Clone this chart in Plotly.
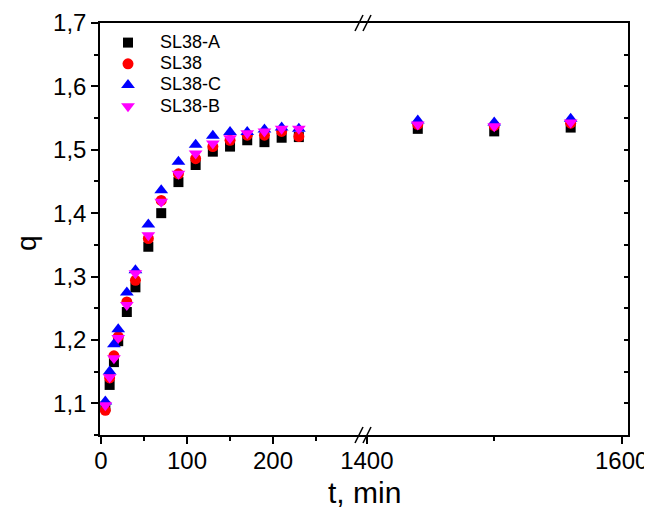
import plotly.graph_objects as go

# ---- data ----
t_left = [5, 10, 15, 20, 30, 40, 55, 70, 90, 110, 130, 150, 170, 190, 210, 230]
t_right = [1440, 1500, 1560]

q_A = [1.095, 1.129, 1.165, 1.198, 1.244, 1.283, 1.347, 1.400, 1.449, 1.476, 1.497, 1.505, 1.515, 1.512, 1.519, 1.520,
       1.533, 1.529, 1.535]
q_SL38 = [1.089, 1.140, 1.175, 1.205, 1.260, 1.294, 1.360, 1.420, 1.462, 1.486, 1.505, 1.515, 1.523, 1.523, 1.529, 1.521,
          1.540, 1.538, 1.542]
q_C = [1.103, 1.150, 1.193, 1.217, 1.275, 1.310, 1.382, 1.436, 1.481, 1.508, 1.522, 1.528, 1.528, 1.532, 1.535, 1.533,
       1.546, 1.543, 1.549]
q_B = [1.097, 1.141, 1.171, 1.203, 1.255, 1.305, 1.365, 1.418, 1.462, 1.494, 1.510, 1.518, 1.526, 1.529, 1.533, 1.533,
       1.540, 1.537, 1.543]

series = [
    ("SL38-A", q_A, "square", "#000000", 10),
    ("SL38", q_SL38, "circle", "#ff0000", 11),
    ("SL38-C", q_C, "triangle-up", "#0000ff", 12),
    ("SL38-B", q_B, "triangle-down", "#ff00ff", 12),
]

FONT = "Liberation Sans, Arial, sans-serif"
nL = len(t_left)

fig = go.Figure()
for name, vals, sym, col, sz in series:
    label = '<span style="font-size:18px">%s</span>' % name
    fig.add_trace(go.Scatter(x=t_left, y=vals[:nL], mode="markers", name=label, legendgroup=name,
                             marker=dict(symbol=sym, color=col, size=sz, line=dict(width=0)),
                             xaxis="x", yaxis="y"))
    fig.add_trace(go.Scatter(x=t_right, y=vals[nL:], mode="markers", name=label, legendgroup=name,
                             showlegend=False,
                             marker=dict(symbol=sym, color=col, size=sz, line=dict(width=0)),
                             xaxis="x2", yaxis="y"))
# empty trace so the right-hand (mirror) y axis is drawn
fig.add_trace(go.Scatter(x=[None], y=[None], mode="markers", showlegend=False, hoverinfo="skip",
                         xaxis="x2", yaxis="y2"))

# page has an 8px body margin, so the figure is 8px smaller and margins shifted
W, H = 644, 513
L, R, T, B = 92, 24, 15, 86
pw, ph = W - L - R, H - T - B


def PX(px):  # page pixel -> paper x
    return (px - 100) / pw


def PY(py):  # page pixel -> paper y
    return (435 - py) / ph


brk = PX(363)

axcommon = dict(showgrid=False, zeroline=False, showline=True, linecolor="black", linewidth=1.5,
                ticks="outside", tickcolor="black", tickwidth=1.5, ticklen=7, automargin=False,
                tickfont=dict(family=FONT, size=24, color="black"))

fig.update_layout(
    width=W, height=H, margin=dict(l=L, r=R, t=T, b=B, autoexpand=False),
    paper_bgcolor="white", plot_bgcolor="white",
    separators=",.",
    font=dict(family=FONT, color="black"),
    xaxis=dict(domain=[0, brk], range=[-1.2, 304.6], anchor="y", tickvals=[0, 100, 200],
               minor=dict(tickvals=[50, 150, 250], ticklen=4, tickcolor="black", tickwidth=1.5, ticks="outside"),
               mirror=True, ticklabelstandoff=-4, **axcommon),
    xaxis2=dict(domain=[brk, 1], range=[1397, 1605], anchor="y", tickvals=[1400, 1600],
                minor=dict(tickvals=[1500], ticklen=4, tickcolor="black", tickwidth=1.5, ticks="outside"),
                mirror=True, ticklabelstandoff=-4, **axcommon),
    yaxis=dict(domain=[0, 1], range=[1.05, 1.7], anchor="x", tickvals=[1.1, 1.2, 1.3, 1.4, 1.5, 1.6, 1.7],
               tickformat=".1f",
               minor=dict(tickvals=[1.05, 1.15, 1.25, 1.35, 1.45, 1.55, 1.65], ticklen=4, tickcolor="black",
                          tickwidth=1.5, ticks="outside"),
               **axcommon),
    yaxis2=dict(domain=[0, 1], range=[1.05, 1.7], anchor="x2", overlaying="y", side="right",
                showgrid=False, zeroline=False, showline=True, linecolor="black", linewidth=1.5,
                ticks="inside", ticklen=4, tickwidth=1.5, tickcolor="black", showticklabels=False,
                automargin=False,
                tickvals=[1.1, 1.15, 1.2, 1.25, 1.3, 1.35, 1.4, 1.45, 1.5, 1.55, 1.6, 1.65]),
    legend=dict(x=PX(96), y=PY(27), xanchor="left", yanchor="top",
                bgcolor="rgba(0,0,0,0)", font=dict(family=FONT, size=14, color="black"),
                tracegroupgap=0, itemwidth=54),
    showlegend=True,
)

fig.add_annotation(text="t, min", xref="paper", yref="paper", x=PX(364), y=PY(492),
                   showarrow=False, font=dict(family=FONT, size=30, color="black"),
                   xanchor="center", yanchor="middle")
fig.add_annotation(text="q", xref="paper", yref="paper", x=PX(26), y=PY(243),
                   showarrow=False, textangle=-90, font=dict(family=FONT, size=28, color="black"),
                   xanchor="center", yanchor="middle")

# axis break marks (decoration, paper coords)
dx = 8 / pw
for yc in (0.0, 1.0):
    for k in (0, 1):
        x0 = PX(355) + k * dx
        fig.add_shape(type="line", xref="paper", yref="paper",
                      x0=x0, y0=yc - 8 / ph, x1=x0 + dx, y1=yc + 8 / ph,
                      line=dict(color="black", width=1.5))

fig.write_html("out.html")
